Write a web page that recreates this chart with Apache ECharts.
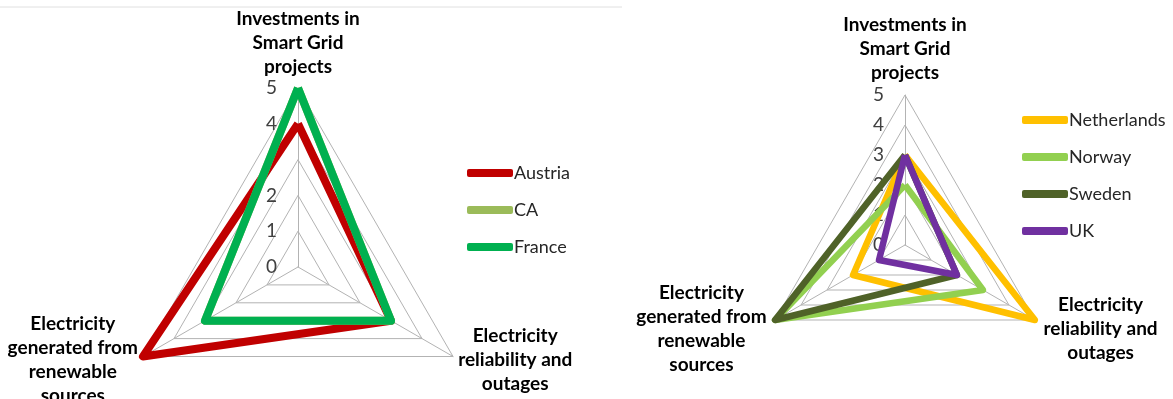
<!DOCTYPE html>
<html>
<head>
<meta charset="utf-8">
<script src="https://cdn.jsdelivr.net/npm/echarts@6/dist/echarts.min.js"></script>
<style>
  html, body { margin: 0; padding: 0; background: #fff; }
  #main { width: 1173px; height: 399px; }
</style>
</head>
<body>
<div id="main"></div>
<script>
// axes: top, lower-left, lower-right (counter-clockwise from top)
var indicators = [
  'Investments in\nSmart Grid\nprojects',
  'Electricity\ngenerated from\nrenewable\nsources',
  'Electricity\nreliability and\noutages'
];
var tickLabels = ['0', '1', '2', '3', '4', '5'];

// left chart
var leftNames = ['Austria', 'CA', 'France'];
var austria = [4, 5, 3];
var ca = [5, 3, 3];
var france = [5, 3, 3];
var leftColors = ['#c00000', '#9bbb59', '#00b050'];

// right chart
var rightNames = ['Netherlands', 'Norway', 'Sweden', 'UK'];
var netherlands = [3, 2, 5];
var norway = [2, 5, 3];
var sweden = [3, 5, 2];
var uk = [3, 1, 2];
var rightColors = ['#ffc000', '#92d050', '#4f6228', '#7030a0'];

var chart = echarts.init(document.getElementById('main'));

var nameFont = { color: '#000', fontFamily: 'Lato', fontWeight: 'bold', fontSize: 19, lineHeight: 24, align: 'center' };
// box widths so every line is centred in its block
var nameBoxes = [122, 130, 114];

function makeRadar(center, radius, gap, padTop) {
  var rich = {};
  nameBoxes.forEach(function (w, i) {
    rich['n' + i] = Object.assign({ width: w }, nameFont);
  });
  return {
    center: center,
    radius: radius,
    startAngle: 90,
    shape: 'polygon',
    splitNumber: 5,
    nameGap: gap,
    axisName: {
      color: '#000',
      fontFamily: 'Lato',
      fontWeight: 'bold',
      fontSize: 19,
      lineHeight: 24,
      padding: [padTop, 0, 0, 0],
      formatter: function (name) {
        var k = indicators.indexOf(name);
        return name.split('\n').map(function (l) {
          return '{n' + k + '|' + l + '}';
        }).join('\n');
      },
      rich: rich
    },
    splitLine: { lineStyle: { color: '#b3b3b3', width: 1 } },
    splitArea: { show: false },
    axisLine: { lineStyle: { color: '#b3b3b3', width: 1 } },
    axisTick: { show: false },
    axisLabel: { show: false },
    indicator: indicators.map(function (n, i) {
      var ind = { name: n, min: 0, max: 5 };
      if (i === 0) {
        ind.axisLabel = {
          show: true,
          color: '#404040',
          fontFamily: 'Lato',
          fontSize: 19,
          margin: 21,
          formatter: function (v) { return tickLabels[v]; }
        };
      }
      return ind;
    })
  };
}

function makeItems(names, values, colors, width) {
  return names.map(function (n, i) {
    return {
      name: n,
      value: values[i],
      symbol: 'none',
      itemStyle: { color: colors[i] },
      lineStyle: { color: colors[i], width: width }
    };
  });
}

function makeLegend(names, left, top) {
  return {
    data: names,
    orient: 'vertical',
    left: left,
    top: top,
    icon: 'roundRect',
    itemWidth: 46,
    itemHeight: 8,
    itemGap: 19,
    textStyle: { color: '#262626', fontFamily: 'Lato', fontSize: 18, lineHeight: 18, padding: [0, 0, 0, -4] }
  };
}

var option = {
  backgroundColor: '#ffffff',
  animation: false,
  legend: [
    makeLegend(leftNames, 462, 159),
    makeLegend(rightNames, 1017, 106)
  ],
  radar: [
    makeRadar([298, 267], 179, 6, 0),
    makeRadar([905, 245], 150, 10, 8)
  ],
  graphic: [
    { type: 'line', shape: { x1: 0, y1: 7, x2: 622, y2: 7 }, style: { stroke: '#e0e0e0', lineWidth: 1 } }
  ],
  series: [
    {
      type: 'radar',
      radarIndex: 0,
      data: makeItems(leftNames, [austria, ca, france], leftColors, 8)
    },
    {
      type: 'radar',
      radarIndex: 1,
      data: makeItems(rightNames, [netherlands, norway, sweden, uk], rightColors, 6.5)
    }
  ]
};

chart.setOption(option);
</script>
</body>
</html>
